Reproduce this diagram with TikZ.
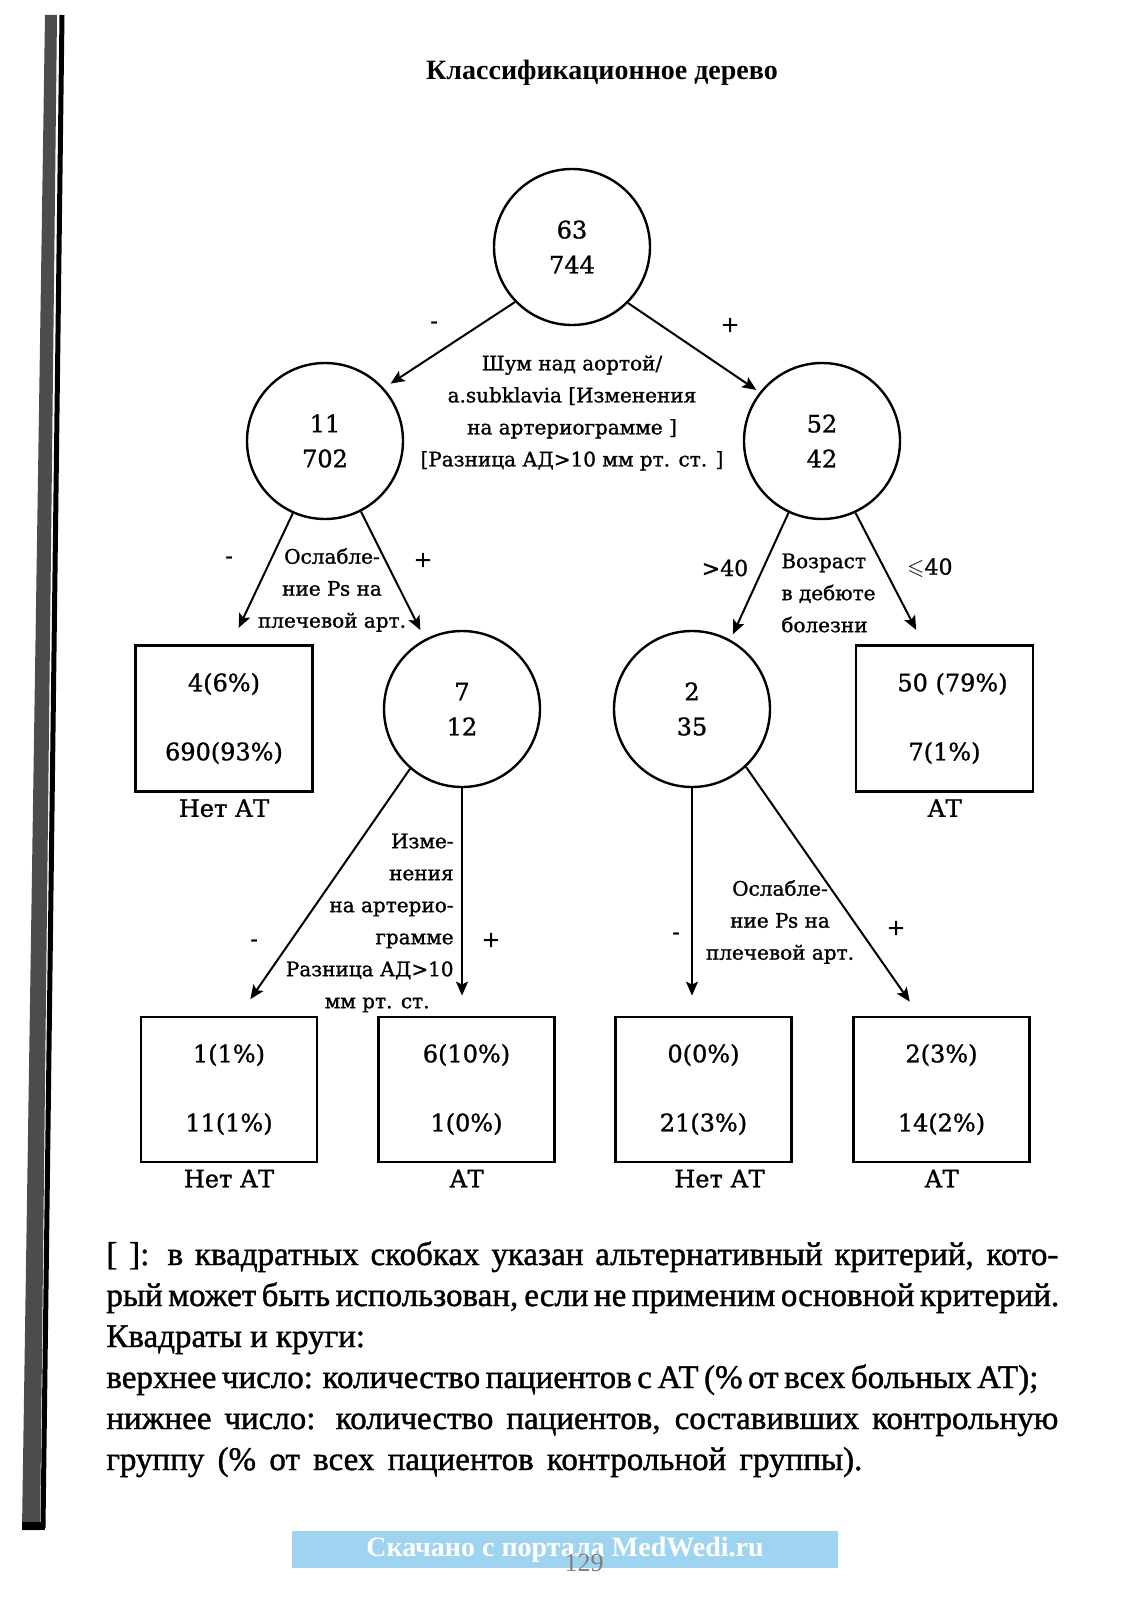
\documentclass[tikz,border=0pt]{standalone}
\usepackage{amssymb}
\usepackage{fontspec}
\setmainfont{Liberation Serif}
\newfontfamily\diagfont{DejaVu Serif}[FakeBold=1.2]
\newfontfamily\notefont{Liberation Serif}[FakeBold=1.2]
\usetikzlibrary{arrows.meta,positioning}
\definecolor{wmblue}{RGB}{158,212,240}

\begin{document}
\begin{tikzpicture}[x=0.5pt, y=-0.5pt,
  font=\diagfont\fontsize{10}{16}\selectfont,
  circ/.style={draw, circle, line width=1.2pt, minimum size=78pt, inner sep=0pt, align=center, font=\diagfont\fontsize{12}{17.5}\selectfont},
  leaf/.style={draw, rectangle, line width=1.4pt, minimum width=88.5pt, minimum height=73pt, inner sep=0pt, align=center, font=\diagfont\fontsize{12}{34.5}\selectfont},
  crit/.style={inner sep=0pt, font=\diagfont\fontsize{10}{16}\selectfont},
  sgn/.style={inner sep=0pt, font=\diagfont\fontsize{11}{13}\selectfont},
  cls/.style={inner sep=0pt, font=\diagfont\fontsize{12}{14}\selectfont},
  arr/.style={-{Stealth[length=7pt, width=6pt, inset=1.5pt]}, line width=1pt}
]
\useasboundingbox (0,0) rectangle (1131,1600);

% binding shadow of the scan
\fill[black!70] (45,15) -- (57,15) -- (40,1530) -- (22,1530) -- cycle;
\draw[line width=2.5pt] (62,15) -- (43,1528);
\fill (22,1522) rectangle (45,1530);

\node[font=\rmfamily\bfseries\fontsize{14}{16}\selectfont] (title) at (602,73) {Классификационное дерево};

% circles
\node[circ] (root) at (572,247) {63\\744};
\node[circ] (c11) at (325,441) {11\\702};
\node[circ] (c52) at (822,441) {52\\42};
\node[circ] (c7) at (462,709) {7\\12};
\node[circ] (c2) at (692,709) {2\\35};

% boxes
\node[leaf] (b690) at (224,718.5) {4(6\%)\\690(93\%)};
\node[leaf] (b50) at (944.5,718.5) {\hspace*{8pt}50 (79\%)\\7(1\%)};
\node[leaf, minimum width=88pt, minimum height=72.5pt] (b11) at (229,1089.5) {1(1\%)\\11(1\%)};
\node[leaf, minimum width=88pt, minimum height=72.5pt] (b6) at (466.5,1089.5) {6(10\%)\\1(0\%)};
\node[leaf, minimum width=88pt, minimum height=72.5pt] (b0) at (703.5,1089.5) {0(0\%)\\21(3\%)};
\node[leaf, minimum width=88pt, minimum height=72.5pt] (b2) at (941.5,1089.5) {2(3\%)\\14(2\%)};

\node[cls, below=3pt of b690] (n690) {Нет АТ};
\node[cls, below=3pt of b50] (n50) {АТ};
\node[cls, below=3pt of b11] (n11) {Нет АТ};
\node[cls, below=3pt of b6] (n6) {АТ};
\node[cls, below=3pt of b0, xshift=8pt] (n0) {Нет АТ};
\node[cls, below=3pt of b2] (n2) {АТ};

% split criteria
\node[crit, align=center] (q1) at (572,413) {Шум над аортой/\\a.subklavia [Изменения\\на артериограмме ]\\{}[Разница АД>10 мм рт. ст. ]};
\node[crit, align=center] (q2) at (332,590) {Ослабле-\\ние Ps на\\плечевой арт.};
\node[crit, align=left, anchor=west] (q3) at (781,593) {Возраст\\в дебюте\\болезни};
\node[crit, align=right, anchor=east] (q4) at (454,923) {Изме-\\нения\\на артерио-\\грамме\\Разница АД>10\\мм рт. ст.\rule{12pt}{0pt}};
\node[crit, align=center] (q5) at (780,922) {Ослабле-\\ние Ps на\\плечевой арт.};

% branch signs
\node[sgn] (s1) at (434,325) {-};
\node[sgn] (s2) at (730,325) {+};
\node[sgn] (s3) at (229,560) {-};
\node[sgn] (s4) at (423,560) {+};
\node[sgn] (s5) at (725,568) {>40};
\node[sgn] (s6) at (930,568) {$\leqslant$40};
\node[sgn] (s7) at (254,943) {-};
\node[sgn] (s8) at (491,940) {+};
\node[sgn] (s9) at (676,936) {-};
\node[sgn] (s10) at (896,928) {+};

\draw[arr, shorten >=4pt] (root.224) -- (c11.42);
\draw[arr, shorten >=2pt] (root.315) -- (c52.142);
\draw[arr, shorten >=9pt] (c11.246) -- ([xshift=3.5pt]b690.north);
\draw[arr, shorten >=5pt] (c11.297) -- (c7.118);
\draw[arr, shorten >=3pt] (c52.245) -- (c2.61);
\draw[arr, shorten >=8pt] (c52.295) -- ([xshift=-10.5pt]b50.north);
\draw[arr, shorten >=10pt] (c7.229) -- ([xshift=5pt]b11.north);
\draw[arr, shorten >=10pt] (c7.south) -- (c7.south |- b6.north);
\draw[arr, shorten >=10pt] (c2.south) -- (c2.south |- b0.north);
\draw[arr, shorten >=8.5pt] (c2.313) -- ([xshift=-11pt]b2.north);

% legend
\node[anchor=north west, inner sep=0pt, align=left, font=\notefont\fontsize{16.5}{20.5}\selectfont] (note) at (106,1241) {%
\makebox[476pt][s]{[\ ]: в квадратных скобках указан альтернативный критерий, кото-}\\
\makebox[476pt][s]{рый может быть использован, если не применим основной критерий.}\\
\makebox[146pt][l]{Квадраты и круги:}\\
\makebox[466pt][s]{верхнее число: количество пациентов с АТ (\% от всех больных АТ);}\\
\makebox[476pt][s]{нижнее число: количество пациентов, составивших контрольную}\\
\makebox[378pt][s]{группу (\% от всех пациентов контрольной группы).}};

\node[fill=wmblue, minimum width=273pt, minimum height=18.5pt, inner sep=0pt, text=white, font=\rmfamily\bfseries\fontsize{14}{16}\selectfont] (wm) at (565,1549.5) {Скачано с портала MedWedi.ru};
\node[text=gray, font=\rmfamily\fontsize{13}{15}\selectfont] (pg) at (584,1563) {129};
\end{tikzpicture}
\end{document}
